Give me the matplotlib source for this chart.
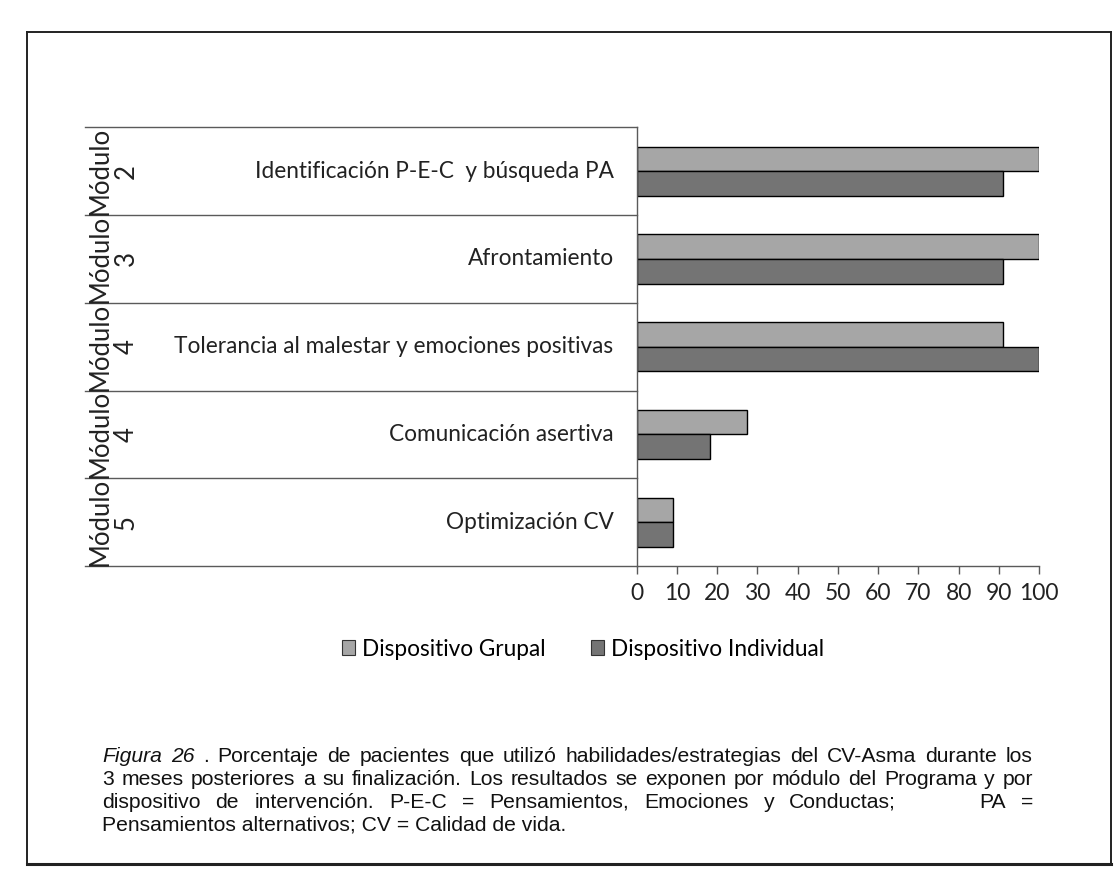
import matplotlib
matplotlib.use("Agg")
import numpy as np
import matplotlib.pyplot as plt
from matplotlib.transforms import blended_transform_factory
from matplotlib.patches import Patch
from matplotlib.lines import Line2D

# ---------------- data ----------------
modules = ["Módulo\n2", "Módulo\n3", "Módulo\n4", "Módulo\n4", "Módulo\n5"]
skills = ["Identificación P-E-C  y búsqueda PA",
          "Afrontamiento",
          "Tolerancia al malestar y emociones positivas",
          "Comunicación asertiva",
          "Optimización CV"]
grupal = [100, 100, 90.9, 27.3, 9.1]
individual = [90.9, 90.9, 100, 18.2, 9.1]
series_names = ["Dispositivo Grupal", "Dispositivo Individual"]
xticks = list(range(0, 101, 10))

caption_lines = [
    "Figura 26 . Porcentaje de pacientes que utilizó habilidades/estrategias del CV-Asma durante los",
    "3 meses posteriores a su finalización. Los resultados se exponen por módulo del Programa y por",
    "dispositivo de intervención. P-E-C = Pensamientos, Emociones y Conductas; PA =",
    "Pensamientos alternativos; CV = Calidad de vida.",
]

# ---------------- layout ----------------
W, H = 1118, 886
fig = plt.figure(figsize=(W / 100, H / 100), dpi=100)
fig.patch.set_facecolor("white")


def fx(px):
    return px / W


def fy(py):
    return 1 - py / H


PL, PR, PT, PB = 636.6, 1039.2, 127.4, 566.0
TABLE_LEFT = 85
c_g = "#a6a6a6"
c_i = "#747474"
line_c = "#5a5a5a"
label_font = ["Lato", "DejaVu Sans"]

ax = fig.add_axes([fx(PL), fy(PB), fx(PR - PL), (PB - PT) / H])
n = len(skills)
y = np.arange(n)
h = 0.28
ax.barh(y - h / 2, grupal, height=h, color=c_g, edgecolor="black", linewidth=1.0,
        label=series_names[0])
ax.barh(y + h / 2, individual, height=h, color=c_i, edgecolor="black", linewidth=1.0,
        label=series_names[1])
ax.set_ylim(n - 0.5, -0.5)
ax.set_xlim(0, 100)
ax.set_xticks(xticks)
ax.set_yticks([])
for s in ["top", "right"]:
    ax.spines[s].set_visible(False)
for s in ["left", "bottom"]:
    ax.spines[s].set_color(line_c)
    ax.spines[s].set_linewidth(1.0)
ax.tick_params(axis="x", length=6, width=1.0, color=line_c, pad=6, labelsize=16.5,
               direction="out")
for lab in ax.get_xticklabels():
    lab.set_family(label_font)
    lab.set_color("#222222")

trans = blended_transform_factory(fig.transFigure, ax.transData)
for b in np.arange(-0.5, n, 1.0):
    ax.add_line(Line2D([fx(TABLE_LEFT), fx(PL)], [b, b], transform=trans,
                       color=line_c, lw=1.0, clip_on=False))

for i in range(n):
    ax.text(fx(PL - 23), y[i], skills[i], transform=trans, ha="right", va="center",
            fontsize=16.3, family=label_font, color="#222222")
    ax.text(fx(113), y[i], modules[i], transform=trans, ha="center", va="center",
            rotation=90, multialignment="center", fontsize=18.5, linespacing=1.05,
            family=label_font, color="#222222")

handles = [Patch(facecolor=c_g, edgecolor="#333333", linewidth=0.8),
           Patch(facecolor=c_i, edgecolor="#333333", linewidth=0.8)]
fig.legend(handles, series_names, loc="center", bbox_to_anchor=(fx(583), fy(649)),
           ncol=2, frameon=False, handlelength=0.6, handleheight=0.6,
           handletextpad=0.3, columnspacing=2.0,
           prop={"family": label_font, "size": 16.3})

# ---------------- caption (justified) ----------------
cap_family = ["Liberation Sans", "DejaVu Sans"]
X0, X1 = 102, 1033
line_y = [754.5, 777.2, 799.9, 822.6]
justify = [True, True, True, False]
renderer = fig.canvas.get_renderer()


def measure(s, fs, style="normal"):
    t = fig.text(0, 0, s, fontsize=fs, family=cap_family, style=style)
    w = t.get_window_extent(renderer).width
    t.remove()
    return w


# choose the size at which line 2 fills the column with ordinary spaces
base = 14.0
nat = measure(caption_lines[1], base)
cap_fs = base * (X1 - X0) / nat * 0.985
base_off = cap_fs * 100 / 72 * 0.36  # centre -> baseline (px)

for li, line in enumerate(caption_lines):
    if not justify[li]:
        fig.text(fx(X0), fy(line_y[li] + base_off), line, fontsize=cap_fs,
                 family=cap_family, ha="left", va="baseline", color="#111111")
        continue
    words = line.split(" ")
    styles = ["italic" if (li == 0 and k < 2) else "normal" for k in range(len(words))]
    widths = [measure(w, cap_fs, st) for w, st in zip(words, styles)]
    weights = [1.0] * (len(words) - 1)
    if li == 2:
        idx = words.index("PA")
        weights[idx - 1] = 5.5
    free = (X1 - X0) - sum(widths)
    unit = free / sum(weights)
    x = X0
    for k, (w, st) in enumerate(zip(words, styles)):
        fig.text(fx(x), fy(line_y[li] + base_off), w, fontsize=cap_fs, family=cap_family,
                 style=st, ha="left", va="baseline", color="#111111")
        x += widths[k]
        if k < len(weights):
            x += unit * weights[k]

# ---------------- page frame ----------------
FL, FR, FT, FB = 27, 1111, 32, 864
frame_c = "#222222"
fig.add_artist(Line2D([fx(FL), fx(FL)], [fy(FT), fy(FB)], color=frame_c, lw=1.4))
fig.add_artist(Line2D([fx(FR), fx(FR)], [fy(FT), fy(FB)], color=frame_c, lw=1.4))
fig.add_artist(Line2D([fx(FL), fx(FR)], [fy(FT), fy(FT)], color=frame_c, lw=1.4))
fig.add_artist(Line2D([fx(FL), fx(FR)], [fy(FB), fy(FB)], color=frame_c, lw=2.2))

fig.savefig("out.png", dpi=100, facecolor="white")
